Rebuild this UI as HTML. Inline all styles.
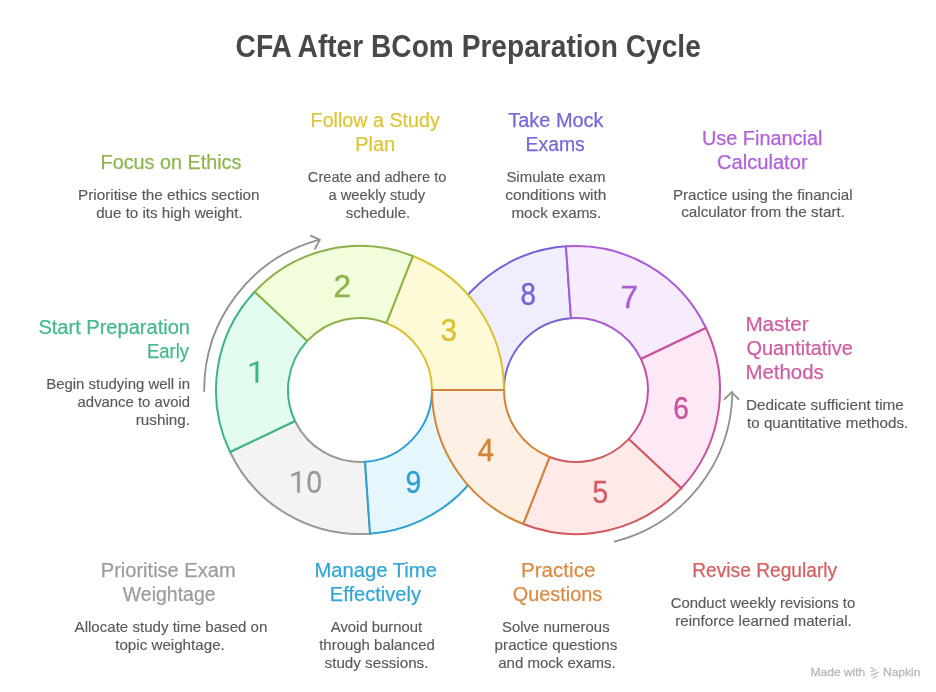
<!DOCTYPE html>
<html><head><meta charset="utf-8"><title>CFA After BCom Preparation Cycle</title>
<style>
html,body{margin:0;padding:0;background:#fff;}
body{width:936px;height:692px;overflow:hidden;position:relative;}
svg{position:absolute;left:0;top:0;display:block;will-change:transform;}
text{font-family:"Liberation Sans",sans-serif;}
.t{font-weight:bold;font-size:31px;stroke-width:0;}
.n{font-size:32px;stroke-width:0.4px;}
.h{font-size:19.5px;stroke-width:0.25px;}
.d{font-size:15px;stroke-width:0.15px;}
.m{font-size:11.5px;stroke-width:0.3px;}
</style></head><body>
<svg width="936" height="692" viewBox="0 0 936 692">
<text class="t" x="235.60" y="57.00" fill="#484848" stroke="#484848" textLength="465.20" lengthAdjust="spacingAndGlyphs">CFA After BCom Preparation Cycle</text>
<path d="M570.98 318.18 L565.96 246.35 A144.0 144.0 0 0 0 432.00 390.00 L504.00 390.00 A72.0 72.0 0 0 1 570.98 318.18 Z" fill="#f0edfe" stroke="#7561d4" stroke-width="2.0" stroke-linejoin="round"/>
<path d="M295.01 421.00 L230.03 451.99 A144.0 144.0 0 0 0 370.04 533.65 L365.02 461.82 A72.0 72.0 0 0 1 295.01 421.00 Z" fill="#f3f3f3" stroke="#999999" stroke-width="2.0" stroke-linejoin="round"/>
<path d="M365.02 461.82 L370.04 533.65 A144.0 144.0 0 0 0 504.00 390.00 L432.00 390.00 A72.0 72.0 0 0 1 365.02 461.82 Z" fill="#e5f6fd" stroke="#2ca0d0" stroke-width="2.0" stroke-linejoin="round"/>
<path d="M307.34 340.90 L254.69 291.79 A144.0 144.0 0 0 0 230.03 451.99 L295.01 421.00 A72.0 72.0 0 0 1 307.34 340.90 Z" fill="#e3fcef" stroke="#3db584" stroke-width="2.0" stroke-linejoin="round"/>
<path d="M432.00 390.00 L504.00 390.00 A144.0 144.0 0 0 0 412.78 256.02 L386.39 323.01 A72.0 72.0 0 0 1 432.00 390.00 Z" fill="#fef9d6" stroke="#d9c22e" stroke-width="2.0" stroke-linejoin="round"/>
<path d="M386.39 323.01 L412.78 256.02 A144.0 144.0 0 0 0 254.69 291.79 L307.34 340.90 A72.0 72.0 0 0 1 386.39 323.01 Z" fill="#f1fddb" stroke="#8bb24a" stroke-width="2.0" stroke-linejoin="round"/>
<path d="M640.99 359.00 L705.97 328.01 A144.0 144.0 0 0 0 565.96 246.35 L570.98 318.18 A72.0 72.0 0 0 1 640.99 359.00 Z" fill="#f7ecfd" stroke="#ac5cd2" stroke-width="2.0" stroke-linejoin="round"/>
<path d="M628.66 439.10 L681.31 488.21 A144.0 144.0 0 0 0 705.97 328.01 L640.99 359.00 A72.0 72.0 0 0 1 628.66 439.10 Z" fill="#fde8f5" stroke="#c9529f" stroke-width="2.0" stroke-linejoin="round"/>
<path d="M549.61 456.99 L523.22 523.98 A144.0 144.0 0 0 0 681.31 488.21 L628.66 439.10 A72.0 72.0 0 0 1 549.61 456.99 Z" fill="#ffe9e9" stroke="#d25a5e" stroke-width="2.0" stroke-linejoin="round"/>
<path d="M504.00 390.00 L432.00 390.00 A144.0 144.0 0 0 0 523.22 523.98 L549.61 456.99 A72.0 72.0 0 0 1 504.00 390.00 Z" fill="#fef0e4" stroke="#d28438" stroke-width="2.0" stroke-linejoin="round"/>
<text class="n" x="333.40" y="296.80" fill="#8bb24a" stroke="#8bb24a" textLength="17.60" lengthAdjust="spacingAndGlyphs">2</text>
<text class="n" x="440.80" y="340.60" fill="#d9c22e" stroke="#d9c22e" textLength="16.20" lengthAdjust="spacingAndGlyphs">3</text>
<text class="n" x="477.80" y="460.60" fill="#d28438" stroke="#d28438" textLength="16.20" lengthAdjust="spacingAndGlyphs">4</text>
<text class="n" x="592.60" y="502.60" fill="#d25a5e" stroke="#d25a5e" textLength="15.60" lengthAdjust="spacingAndGlyphs">5</text>
<text class="n" x="673.20" y="418.60" fill="#c9529f" stroke="#c9529f" textLength="15.60" lengthAdjust="spacingAndGlyphs">6</text>
<text class="n" x="620.60" y="307.60" fill="#ac5cd2" stroke="#ac5cd2" textLength="17.60" lengthAdjust="spacingAndGlyphs">7</text>
<text class="n" x="520.40" y="304.50" fill="#7561d4" stroke="#7561d4" textLength="15.40" lengthAdjust="spacingAndGlyphs">8</text>
<text class="n" x="405.40" y="493.30" fill="#2ca0d0" stroke="#2ca0d0" textLength="15.80" lengthAdjust="spacingAndGlyphs">9</text>
<text class="n" x="306.40" y="492.60" fill="#999999" stroke="#999999" textLength="15.40" lengthAdjust="spacingAndGlyphs">0</text>
<path d="M258.2 361.1 L258.2 382.6 L255.6 382.6 L255.6 364.4 L249.8 366.6 L249.8 364.2 Z" fill="#3db584" stroke="#3db584" stroke-width="0.3" stroke-linejoin="round"/>
<path d="M258.2 361.1 L258.2 382.6 L255.6 382.6 L255.6 364.4 L249.8 366.6 L249.8 364.2 Z" transform="translate(41.6 110)" fill="#999999" stroke="#999999" stroke-width="0.3" stroke-linejoin="round"/>
<path d="M204.20 391.09 A155.8 155.8 0 0 1 319.68 239.51" fill="none" stroke="#8f8f8f" stroke-width="1.8" stroke-linecap="round"/>
<path d="M310.9 235.6 L319.8 239.9 L315 248.8" fill="none" stroke="#8f8f8f" stroke-width="1.8" stroke-linecap="round" stroke-linejoin="round"/>
<path d="M614.63 541.55 A156.4 156.4 0 0 0 732.38 392.18" fill="none" stroke="#8f8f8f" stroke-width="1.8" stroke-linecap="round"/>
<path d="M724.6 399.2 L731.7 392.1 L738.5 399.2" fill="none" stroke="#8f8f8f" stroke-width="1.8" stroke-linecap="round" stroke-linejoin="round"/>
<text class="h" x="100.60" y="168.50" fill="#8fb550" stroke="#8fb550" textLength="140.80" lengthAdjust="spacingAndGlyphs">Focus on Ethics</text>
<text class="d" x="78.00" y="199.50" fill="#595959" stroke="#595959" textLength="181.60" lengthAdjust="spacingAndGlyphs">Prioritise the ethics section</text>
<text class="d" x="96.20" y="217.80" fill="#595959" stroke="#595959" textLength="146.40" lengthAdjust="spacingAndGlyphs">due to its high weight.</text>
<text class="h" x="310.60" y="126.90" fill="#dcc63a" stroke="#dcc63a" textLength="129.20" lengthAdjust="spacingAndGlyphs">Follow a Study</text>
<text class="h" x="355.20" y="151.00" fill="#dcc63a" stroke="#dcc63a" textLength="40.00" lengthAdjust="spacingAndGlyphs">Plan</text>
<text class="d" x="307.80" y="181.70" fill="#595959" stroke="#595959" textLength="138.60" lengthAdjust="spacingAndGlyphs">Create and adhere to</text>
<text class="d" x="328.40" y="199.60" fill="#595959" stroke="#595959" textLength="96.80" lengthAdjust="spacingAndGlyphs">a weekly study</text>
<text class="d" x="345.80" y="217.50" fill="#595959" stroke="#595959" textLength="64.40" lengthAdjust="spacingAndGlyphs">schedule.</text>
<text class="h" x="508.20" y="126.90" fill="#7866d6" stroke="#7866d6" textLength="95.40" lengthAdjust="spacingAndGlyphs">Take Mock</text>
<text class="h" x="525.60" y="150.90" fill="#7866d6" stroke="#7866d6" textLength="59.20" lengthAdjust="spacingAndGlyphs">Exams</text>
<text class="d" x="506.40" y="181.70" fill="#595959" stroke="#595959" textLength="99.00" lengthAdjust="spacingAndGlyphs">Simulate exam</text>
<text class="d" x="505.20" y="199.60" fill="#595959" stroke="#595959" textLength="101.20" lengthAdjust="spacingAndGlyphs">conditions with</text>
<text class="d" x="511.40" y="217.50" fill="#595959" stroke="#595959" textLength="89.80" lengthAdjust="spacingAndGlyphs">mock exams.</text>
<text class="h" x="702.00" y="144.80" fill="#b062d6" stroke="#b062d6" textLength="120.40" lengthAdjust="spacingAndGlyphs">Use Financial</text>
<text class="h" x="717.00" y="168.80" fill="#b062d6" stroke="#b062d6" textLength="90.60" lengthAdjust="spacingAndGlyphs">Calculator</text>
<text class="d" x="673.00" y="199.50" fill="#595959" stroke="#595959" textLength="179.60" lengthAdjust="spacingAndGlyphs">Practice using the financial</text>
<text class="d" x="681.20" y="217.30" fill="#595959" stroke="#595959" textLength="163.80" lengthAdjust="spacingAndGlyphs">calculator from the start.</text>
<text class="h" x="38.40" y="333.60" fill="#45b98a" stroke="#45b98a" textLength="151.60" lengthAdjust="spacingAndGlyphs">Start Preparation</text>
<text class="h" x="147.00" y="357.60" fill="#45b98a" stroke="#45b98a" textLength="42.00" lengthAdjust="spacingAndGlyphs">Early</text>
<text class="d" x="46.20" y="388.90" fill="#595959" stroke="#595959" textLength="143.80" lengthAdjust="spacingAndGlyphs">Begin studying well in</text>
<text class="d" x="77.60" y="406.70" fill="#595959" stroke="#595959" textLength="112.40" lengthAdjust="spacingAndGlyphs">advance to avoid</text>
<text class="d" x="135.80" y="424.50" fill="#595959" stroke="#595959" textLength="54.20" lengthAdjust="spacingAndGlyphs">rushing.</text>
<text class="h" x="745.40" y="331.00" fill="#cf5ea5" stroke="#cf5ea5" textLength="63.20" lengthAdjust="spacingAndGlyphs">Master</text>
<text class="h" x="746.40" y="354.80" fill="#cf5ea5" stroke="#cf5ea5" textLength="106.40" lengthAdjust="spacingAndGlyphs">Quantitative</text>
<text class="h" x="745.40" y="378.70" fill="#cf5ea5" stroke="#cf5ea5" textLength="78.40" lengthAdjust="spacingAndGlyphs">Methods</text>
<text class="d" x="746.00" y="409.80" fill="#595959" stroke="#595959" textLength="157.80" lengthAdjust="spacingAndGlyphs">Dedicate sufficient time</text>
<text class="d" x="747.00" y="428.00" fill="#595959" stroke="#595959" textLength="161.20" lengthAdjust="spacingAndGlyphs">to quantitative methods.</text>
<text class="h" x="100.80" y="576.60" fill="#9c9c9c" stroke="#9c9c9c" textLength="134.80" lengthAdjust="spacingAndGlyphs">Prioritise Exam</text>
<text class="h" x="122.80" y="601.10" fill="#9c9c9c" stroke="#9c9c9c" textLength="92.80" lengthAdjust="spacingAndGlyphs">Weightage</text>
<text class="d" x="74.60" y="631.80" fill="#595959" stroke="#595959" textLength="192.80" lengthAdjust="spacingAndGlyphs">Allocate study time based on</text>
<text class="d" x="115.20" y="649.80" fill="#595959" stroke="#595959" textLength="109.60" lengthAdjust="spacingAndGlyphs">topic weightage.</text>
<text class="h" x="314.40" y="576.70" fill="#33a5d3" stroke="#33a5d3" textLength="122.60" lengthAdjust="spacingAndGlyphs">Manage Time</text>
<text class="h" x="329.80" y="601.10" fill="#33a5d3" stroke="#33a5d3" textLength="91.20" lengthAdjust="spacingAndGlyphs">Effectively</text>
<text class="d" x="330.80" y="631.90" fill="#595959" stroke="#595959" textLength="91.40" lengthAdjust="spacingAndGlyphs">Avoid burnout</text>
<text class="d" x="319.20" y="649.90" fill="#595959" stroke="#595959" textLength="115.60" lengthAdjust="spacingAndGlyphs">through balanced</text>
<text class="d" x="324.60" y="667.90" fill="#595959" stroke="#595959" textLength="103.80" lengthAdjust="spacingAndGlyphs">study sessions.</text>
<text class="h" x="521.00" y="576.70" fill="#d98c44" stroke="#d98c44" textLength="74.40" lengthAdjust="spacingAndGlyphs">Practice</text>
<text class="h" x="512.80" y="601.10" fill="#d98c44" stroke="#d98c44" textLength="89.40" lengthAdjust="spacingAndGlyphs">Questions</text>
<text class="d" x="502.00" y="631.90" fill="#595959" stroke="#595959" textLength="107.60" lengthAdjust="spacingAndGlyphs">Solve numerous</text>
<text class="d" x="494.60" y="649.90" fill="#595959" stroke="#595959" textLength="122.80" lengthAdjust="spacingAndGlyphs">practice questions</text>
<text class="d" x="498.20" y="667.90" fill="#595959" stroke="#595959" textLength="117.60" lengthAdjust="spacingAndGlyphs">and mock exams.</text>
<text class="h" x="692.20" y="577.30" fill="#d65f62" stroke="#d65f62" textLength="145.00" lengthAdjust="spacingAndGlyphs">Revise Regularly</text>
<text class="d" x="670.80" y="608.20" fill="#595959" stroke="#595959" textLength="184.40" lengthAdjust="spacingAndGlyphs">Conduct weekly revisions to</text>
<text class="d" x="675.20" y="625.90" fill="#595959" stroke="#595959" textLength="176.60" lengthAdjust="spacingAndGlyphs">reinforce learned material.</text>
<text class="m" x="810.60" y="675.60" fill="#b8b8b8" stroke="#b8b8b8" textLength="54.60" lengthAdjust="spacingAndGlyphs">Made with</text>
<text class="m" x="883.00" y="675.60" fill="#b8b8b8" stroke="#b8b8b8" textLength="37.40" lengthAdjust="spacingAndGlyphs">Napkin</text>
<g fill="none" stroke="#bcbcbc" stroke-width="1.3" stroke-linecap="round"><path d="M870.9 667.6 L873.2 668.9"/><path d="M871.2 671.6 L876 669.9"/><path d="M871.2 675.4 L878.6 672.2"/><path d="M873.2 678 L876.6 676"/></g>
</svg>
</body></html>
